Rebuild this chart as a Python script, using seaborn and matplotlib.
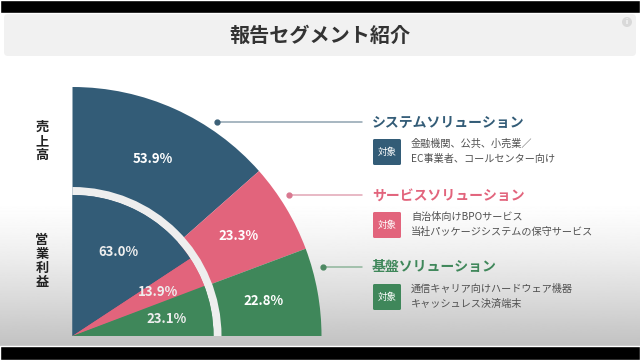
import numpy as np
import matplotlib
matplotlib.use("Agg")
import matplotlib.pyplot as plt
from matplotlib.patches import Rectangle, Wedge, FancyBboxPatch, Circle
import seaborn as sns


# data

segments = ["システムソリューション", "サービスソリューション", "基盤ソリューション"]
sales_share = [53.9, 23.3, 22.8]      # 売上高 (outer)
profit_share = [63.0, 13.9, 23.1]     # 営業利益 (inner)
metric_labels = ["売上高", "営業利益"]
targets = [
    ["金融機関、公共、小売業／", "EC事業者、コールセンター向け"],
    ["自治体向けBPOサービス", "当社パッケージシステムの保守サービス"],
    ["通信キャリア向けハードウェア機器", "キャッシュレス決済端末"],
]
badge_text = "対象"
title = "報告セグメント紹介"

seg_colors = ["#335c77", "#e2647c", "#3f875a"]
line_colors = ["#8fa3b0", "#e2a6b5", "#8fb69c"]
dot_colors = ["#3d6178", "#d97890", "#4d8862"]


sns.set_theme(style="white")
plt.rcParams["font.family"] = ["Noto Sans CJK JP", "DejaVu Sans"]


def Y(y):
    # image row -> axes y
    return 360 - y


fig = plt.figure(figsize=(6.4, 3.6), dpi=100)
ax = fig.add_axes([0, 0, 1, 1])


# background: slide with soft gradient + black bars

rows = np.linspace(57, 346, 300)
shade = np.where(rows < 200, 1.0, 1.0 - 0.24 * ((rows - 200) / 146) ** 1.3)
ax.imshow(shade[:, None], extent=[0, 640, Y(346), Y(57)], cmap="gray",
          vmin=0, vmax=1, aspect="auto", zorder=0)
ax.add_patch(FancyBboxPatch((4, Y(56)), 632, 42, boxstyle="round,pad=0,rounding_size=4",
                            facecolor="#f1f1f1", edgecolor="none", zorder=1))
ax.add_patch(Rectangle((0, Y(13)), 640, 13, facecolor="black", zorder=5))
ax.add_patch(Rectangle((0, 0), 640, 360 - 346, facecolor="black", zorder=5))
ax.add_patch(Circle((627, Y(22)), 5, facecolor="#d9d9d9", edgecolor="none", zorder=2))
ax.text(627, Y(22), "i", color="white", fontsize=5, fontweight="bold",
        ha="center", va="center", zorder=3)

ax.text(320, Y(35), title, fontsize=14.5, fontweight="bold", color="#333333",
        ha="center", va="center", zorder=3)


# quarter pies

center = (72.5, Y(336))

ax.pie(np.array(sales_share) / 400, normalize=False, radius=249, center=center,
       startangle=90, counterclock=False, colors=seg_colors,
       autopct=lambda p: f"{p * 4:.1f}%", pctdistance=0.78,
       textprops=dict(color="white", fontsize=9.5, fontweight="bold"),
       wedgeprops=dict(linewidth=0.4, edgecolor="none"))

ax.add_patch(Wedge(center, 149, 0, 90, width=8, facecolor="#eeeeee",
                   edgecolor="none", zorder=3))

inner = ax.pie(np.array(profit_share) / 400, normalize=False, radius=141, center=center,
               startangle=90, counterclock=False, colors=seg_colors,
               autopct=lambda p: f"{p * 4:.1f}%", pctdistance=0.68,
               textprops=dict(color="white", fontsize=9.5, fontweight="bold"),
               wedgeprops=dict(linewidth=0.4, edgecolor="none"))
for w in inner[0]:
    w.set_zorder(4)
for t in inner[2]:
    t.set_zorder(6)
    t.set_color("#eeeeee")

ax.set_xlim(0, 640)
ax.set_ylim(0, 360)
ax.set_aspect("auto")
ax.axis("off")

# metric labels (vertical)
for lab, yy in zip(metric_labels, [141, 261]):
    ax.text(42, Y(yy), "\n".join(lab), fontsize=9.5, fontweight="bold", color="#222222",
            ha="center", va="center", linespacing=1.0, zorder=3)


# legend / descriptions on the right

line_y = [122, 195, 267]
dot_x = [217, 289, 323]
badge_top = [139, 212, 284]

for i, seg in enumerate(segments):
    ax.plot([dot_x[i], 362], [Y(line_y[i])] * 2, color=line_colors[i], lw=1.1, zorder=3)
    ax.plot(dot_x[i], Y(line_y[i]), "o", ms=3.5, color=dot_colors[i], zorder=3)
    ax.text(372, Y(line_y[i] + 0.5), seg, fontsize=10, fontweight="bold",
            color=seg_colors[i], ha="left", va="center", zorder=3)
    ax.add_patch(FancyBboxPatch((373, Y(badge_top[i] + 26)), 28, 26,
                                boxstyle="round,pad=0,rounding_size=1.5",
                                facecolor=seg_colors[i], edgecolor="none", zorder=3))
    ax.text(387, Y(badge_top[i] + 13), badge_text, fontsize=6.8, color="white",
            ha="center", va="center", zorder=4)
    for j, line in enumerate(targets[i]):
        ax.text(411, Y(badge_top[i] + 5 + j * 15), line, fontsize=7.3, color="#505050",
                ha="left", va="center", zorder=3)

fig.savefig("out.png", dpi=100)
plt.close(fig)
